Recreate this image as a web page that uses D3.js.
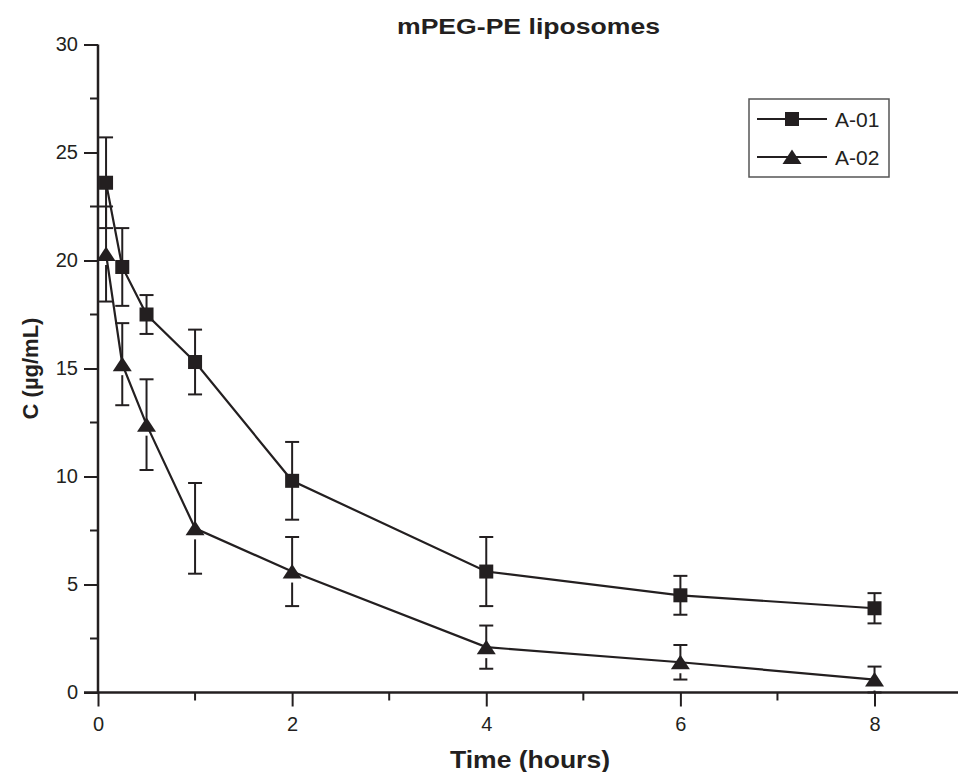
<!DOCTYPE html>
<html>
<head>
<meta charset="utf-8">
<script src="https://cdn.jsdelivr.net/npm/d3@7"></script>
<style>
  body { margin: 0; background: #fff; }
  svg { display: block; font-family: "Liberation Sans", Arial, sans-serif; }
</style>
</head>
<body>
<svg id="chart" width="961" height="772"></svg>
<script>
// time points (hours)
const times = [0.083, 0.25, 0.5, 1, 2, 4, 6, 8];

const seriesNames = ["A-01", "A-02"];
const a01 = [23.6, 19.7, 17.5, 15.3, 9.8, 5.6, 4.5, 3.9];
const a01Err = [2.1, 1.8, 0.9, 1.5, 1.8, 1.6, 0.9, 0.7];
const a02 = [20.3, 15.2, 12.4, 7.6, 5.6, 2.1, 1.4, 0.6];
const a02Err = [2.2, 1.9, 2.1, 2.1, 1.6, 1.0, 0.8, 0.6];

const xMajor = [0, 2, 4, 6, 8];
const xMinor = [1, 3, 5, 7];
const yMajor = [0, 5, 10, 15, 20, 25, 30];
const yMinor = [2.5, 7.5, 12.5, 17.5, 22.5, 27.5];

const ink = "#231f20";
const svg = d3.select("#chart");

let margin = { top: 44.5, right: 3, bottom: 79.5, left: 98 };
const W = 961, H = 772;

const x = d3.scaleLinear().domain([0, 8.86]).range([margin.left, W - margin.right]);
const y = d3.scaleLinear().domain([0, 30]).range([H - margin.bottom, margin.top]);

// title (the original lettering is a bit wider than Liberation Sans)
svg.append("text")
	.attr("x", 397)
	.attr("y", 34)
	.attr("textLength", 263)
	.attr("lengthAdjust", "spacingAndGlyphs")
	.attr("font-size", 22)
	.attr("font-weight", "bold")
	.attr("fill", ink)
	.text("mPEG-PE liposomes");

// x axis
const xAxis = svg.append("g")
	.attr("transform", `translate(0,${y(0)})`)
	.call(d3.axisBottom(x).tickValues(xMajor).tickSize(14).tickPadding(10).tickSizeOuter(0));
xAxis.select(".domain").remove();
xAxis.append("line")
	.attr("x1", margin.left - 14).attr("x2", W - margin.right)
	.attr("stroke", ink).attr("stroke-width", 2.5);
xAxis.selectAll(".tick line").attr("stroke", ink).attr("stroke-width", 2);
xAxis.selectAll(".tick text").attr("font-size", 20).attr("fill", ink)
	.attr("font-family", "Liberation Sans, Arial, sans-serif");
xAxis.selectAll(".minor")
	.data(xMinor).enter().append("line")
	.attr("x1", (d) => x(d)).attr("x2", (d) => x(d))
	.attr("y1", 0).attr("y2", 8)
	.attr("stroke", ink).attr("stroke-width", 2);

// y axis
const yAxis = svg.append("g")
	.attr("transform", `translate(${x(0)},0)`)
	.call(d3.axisLeft(y).tickValues(yMajor).tickSize(14).tickPadding(6).tickSizeOuter(0));
yAxis.select(".domain").remove();
yAxis.append("line")
	.attr("y1", y(30)).attr("y2", y(0))
	.attr("stroke", ink).attr("stroke-width", 2.5);
yAxis.selectAll(".tick line").attr("stroke", ink).attr("stroke-width", 2);
yAxis.selectAll(".tick text").attr("font-size", 20).attr("fill", ink)
	.attr("font-family", "Liberation Sans, Arial, sans-serif");
yAxis.selectAll(".minor")
	.data(yMinor).enter().append("line")
	.attr("y1", (d) => y(d)).attr("y2", (d) => y(d))
	.attr("x1", 0).attr("x2", -8)
	.attr("stroke", ink).attr("stroke-width", 2);

// axis titles
svg.append("text")
	.attr("x", 450)
	.attr("y", 768)
	.attr("textLength", 160)
	.attr("lengthAdjust", "spacingAndGlyphs")
	.attr("font-size", 24)
	.attr("font-weight", "bold")
	.attr("fill", ink)
	.text("Time (hours)");

svg.append("text")
	.attr("transform", `translate(38,${(y(0) + y(30)) / 2}) rotate(-90)`)
	.attr("text-anchor", "middle")
	.attr("font-size", 22)
	.attr("font-weight", "bold")
	.attr("fill", ink)
	.text("C (µg/mL)");

// data series
const series = [
	{ name: seriesNames[0], vals: a01, err: a01Err, shape: "square" },
	{ name: seriesNames[1], vals: a02, err: a02Err, shape: "triangle" },
];

const line = d3.line().x((d) => x(d.t)).y((d) => y(d.v));

function drawMarker(g, shape, cx, cy) {
	if (shape === "square") {
		g.append("rect")
			.attr("x", cx - 7).attr("y", cy - 7)
			.attr("width", 14).attr("height", 14)
			.attr("fill", ink);
	} else {
		g.append("path")
			.attr("d", `M${cx},${cy - 7.5}L${cx + 9.5},${cy + 7}L${cx - 9.5},${cy + 7}Z`)
			.attr("fill", ink);
	}
}

series.forEach(function (s) {
	const pts = times.map((t, i) => ({ t: t, v: s.vals[i], e: s.err[i] }));
	const g = svg.append("g");

	g.append("path")
		.datum(pts)
		.attr("d", line)
		.attr("fill", "none")
		.attr("stroke", ink)
		.attr("stroke-width", 2.2);

	pts.forEach(function (p) {
		const cx = x(p.t), cy = y(p.v);
		const top = y(p.v + p.e), bot = y(p.v - p.e);
		// gap under triangle base like the original
		const botStart = s.shape === "triangle" ? cy + 11 : cy;
		g.append("line")
			.attr("x1", cx).attr("x2", cx).attr("y1", top).attr("y2", cy)
			.attr("stroke", ink).attr("stroke-width", 2);
		if (bot > botStart) {
			g.append("line")
				.attr("x1", cx).attr("x2", cx).attr("y1", botStart).attr("y2", bot)
				.attr("stroke", ink).attr("stroke-width", 2);
		}
		[top, bot].forEach(function (yy) {
			g.append("line")
				.attr("x1", cx - 7).attr("x2", cx + 7).attr("y1", yy).attr("y2", yy)
				.attr("stroke", ink).attr("stroke-width", 2);
		});
	});

	pts.forEach((p) => drawMarker(g, s.shape, x(p.t), y(p.v)));
});

// legend
const legend = svg.append("g").attr("transform", "translate(749,99)");
legend.append("rect")
	.attr("width", 140).attr("height", 78)
	.attr("fill", "#fff")
	.attr("stroke", "#555").attr("stroke-width", 1.5);
series.forEach(function (s, i) {
	const ly = 20 + i * 38;
	legend.append("line")
		.attr("x1", 8).attr("x2", 78).attr("y1", ly).attr("y2", ly)
		.attr("stroke", ink).attr("stroke-width", 2.2);
	drawMarker(legend, s.shape, 43, ly);
	legend.append("text")
		.attr("x", 86).attr("y", ly + 7.5)
		.attr("font-size", 21)
		.attr("fill", ink)
		.text(s.name);
});
</script>
</body>
</html>
